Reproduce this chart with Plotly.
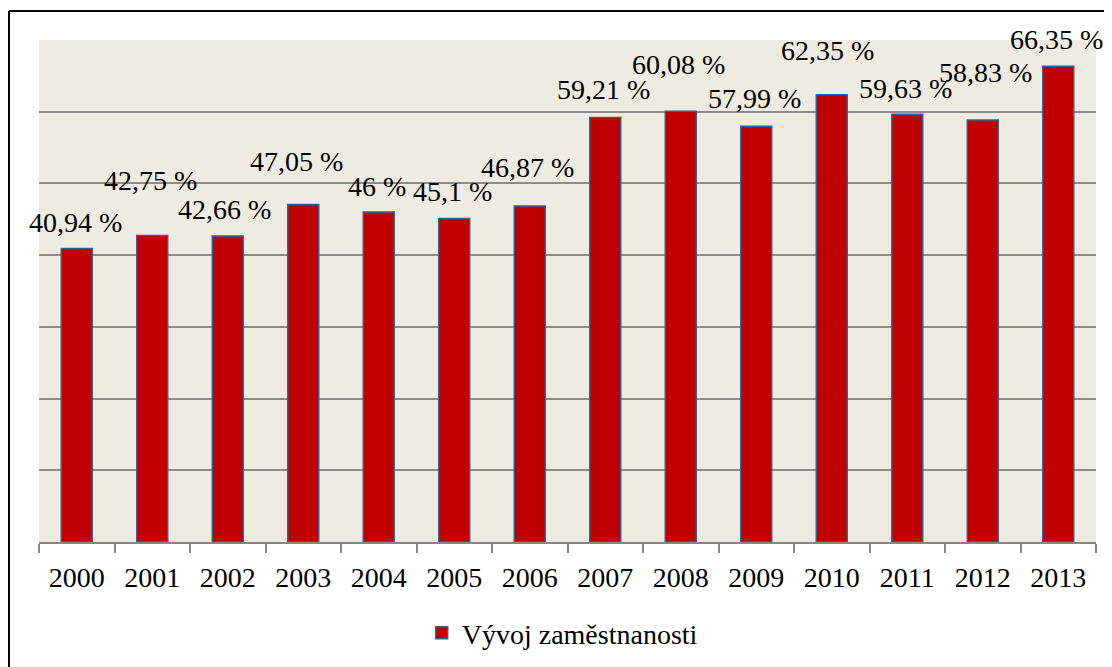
import plotly.graph_objects as go

years = ["2000", "2001", "2002", "2003", "2004", "2005", "2006",
         "2007", "2008", "2009", "2010", "2011", "2012", "2013"]
values = [40.94, 42.75, 42.66, 47.05, 46.00, 45.10, 46.87,
          59.21, 60.08, 57.99, 62.35, 59.63, 58.83, 66.35]
labels = ["40,94 %", "42,75 %", "42,66 %", "47,05 %", "46 %", "45,1 %", "46,87 %",
          "59,21 %", "60,08 %", "57,99 %", "62,35 %", "59,63 %", "58,83 %", "66,35 %"]
series_name = "Vývoj zaměstnanosti"

# label placement offsets (pixels) - styling only
label_yshift = [26, 55, 27, 43, 26, 27, 38, 28, 47, 28, 44, 26, 48, 27]
label_xshift = [-1, -2, -3, -7, -2, -2, -2, -2, -2, -2, -4, -2, 3, -2]

FONT = "Liberation Serif, Times New Roman, serif"

fig = go.Figure()
fig.add_trace(go.Bar(
    x=years, y=values, name=series_name, width=0.41,
    marker=dict(color="#C00000", line=dict(color="#385D8A", width=1.5)),
    showlegend=True,
))

for i, (v, t, ys, xs) in enumerate(zip(values, labels, label_yshift, label_xshift)):
    fig.add_annotation(x=i, y=v, text=t, showarrow=False, yanchor="middle",
                       xanchor="center", yshift=ys, xshift=xs,
                       font=dict(family=FONT, size=28, color="black"))

# page body has an 8px offset; margins compensate
L, R, T, B = 31, 24, 32, 133
PW = 1112 - L - R
PH = 667 - T - B

# outer frame (top and left edges visible)
fx = (1 - L) / PW
fy = (PH + T - 3) / PH
fig.add_shape(type="line", xref="paper", yref="paper",
              x0=fx, x1=1.2, y0=fy, y1=fy, line=dict(color="black", width=2))
fig.add_shape(type="line", xref="paper", yref="paper",
              x0=fx, x1=fx, y0=fy, y1=-0.5, line=dict(color="black", width=2))

fig.update_layout(
    width=1112, height=667,
    margin=dict(l=L, r=R, t=T, b=B, autoexpand=False),
    paper_bgcolor="white", plot_bgcolor="#EEECE1",
    font=dict(family=FONT, size=28, color="black"),
    legend=dict(orientation="h", x=0.495, xanchor="center", y=-91 / PH, yanchor="middle",
                font=dict(family=FONT, size=28), bgcolor="rgba(0,0,0,0)",
                itemwidth=30),
    xaxis=dict(type="category", range=[-0.5, 13.5], autorange=False, automargin=False,
               showgrid=False, showline=True, linecolor="#868686",
               linewidth=1.5, ticks="outside", tickson="boundaries", ticklen=9,
               tickcolor="#868686", tickwidth=1.5, ticklabelstandoff=10, tickangle=0,
               tickfont=dict(family=FONT, size=28)),
    yaxis=dict(range=[0, 70], dtick=10, showgrid=True, gridcolor="#8C8C8C",
               gridwidth=1.5, showticklabels=False, zeroline=False, showline=False,
               automargin=False, fixedrange=True),
)

fig.write_html("out.html")
